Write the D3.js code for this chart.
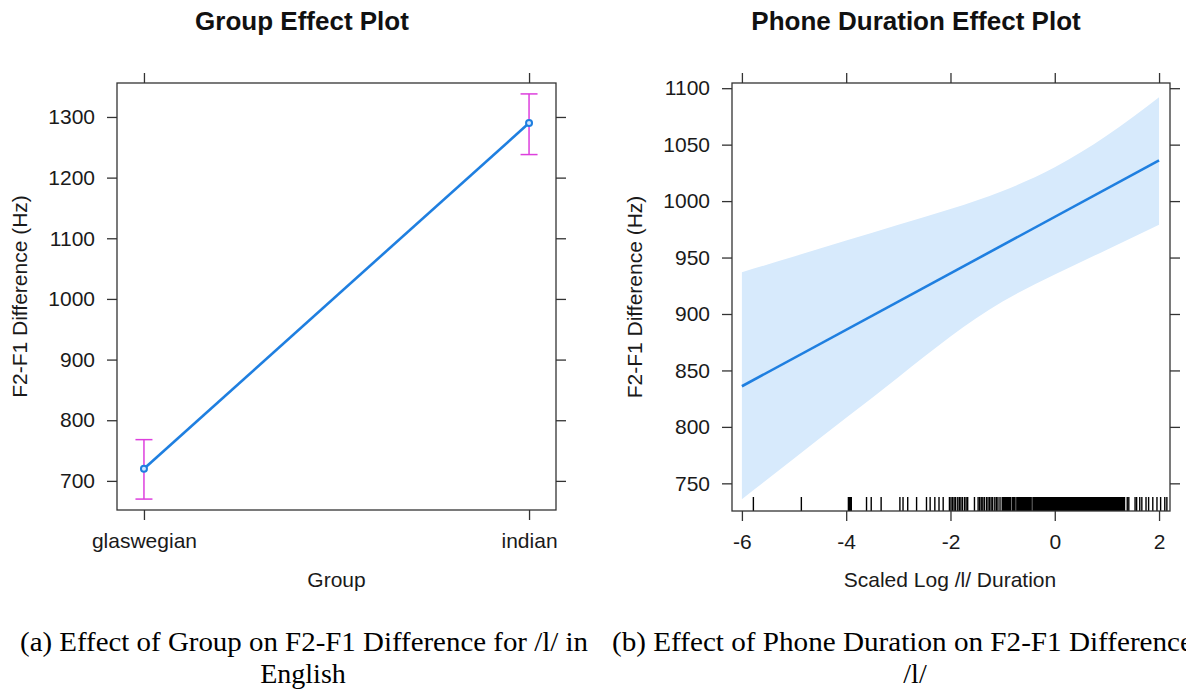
<!DOCTYPE html>
<html>
<head>
<meta charset="utf-8">
<script src="https://cdn.jsdelivr.net/npm/d3@7"></script>
<style>
  html, body { margin: 0; padding: 0; background: #fff; }
  svg { display: block; }
  .ax text { font-family: "Liberation Sans", Arial, sans-serif; font-size: 21px; fill: #1a1a1a; }
  .ax line { stroke: #333; stroke-width: 1.3; }
  .ax path { display: none; }
</style>
</head>
<body>
<svg id="chart" width="1186" height="690"></svg>
<script>
// ---------- data ----------
const groups = ["glaswegian", "indian"];
const groupFit = [720, 1290];
const groupLower = [670, 1238];
const groupUpper = [768, 1338];
const groupYTicks = [700, 800, 900, 1000, 1100, 1200, 1300];

const durX = [-6, 2];
const durFit = [836, 1036];
const bandX = [-6, -5, -4, -3, -2, -1, 0, 1, 2];
const bandUpper = [937, 951, 965, 979, 993, 1009, 1030, 1058, 1092];
const bandLower = [736, 772, 808, 844, 880, 911, 935, 957, 979];
const durXTicks = [-6, -4, -2, 0, 2];
const durYTicks = [750, 800, 850, 900, 950, 1000, 1050, 1100];
const rugValues = [
  -5.78, -4.86, -3.95, -3.93, -3.91, -3.61, -3.52, -3.33,
  -2.97, -2.91, -2.82, -2.65, -2.46, -2.39, -2.30, -2.22, -2.14,
  -2.02, -1.99, -1.96, -1.93, -1.90, -1.86, -1.83, -1.80, -1.77, -1.73, -1.70, -1.67,
  -1.54, -1.47, -1.44, -1.41, -1.38, -1.35, -1.31, -1.28, -1.25, -1.22, -1.19, -1.15, -1.12, -1.09, -1.05,
  -1.00, -0.98, -0.96, -0.94, -0.92, -0.90, -0.88, -0.86,
  -0.81, -0.79, -0.77,
  -0.72, -0.70, -0.68, -0.66, -0.64, -0.62, -0.60, -0.58, -0.56, -0.54, -0.52, -0.50, -0.48, -0.46,
  -0.41, -0.39, -0.37, -0.35, -0.33, -0.31, -0.29, -0.27, -0.25, -0.23, -0.21, -0.19, -0.17, -0.15,
  -0.13, -0.11, -0.09, -0.07, -0.05, -0.03, -0.01,
  0.01, 0.03, 0.05, 0.07, 0.09, 0.11, 0.13, 0.15, 0.17, 0.19, 0.21, 0.23, 0.25, 0.27, 0.29,
  0.31, 0.33, 0.35, 0.37, 0.39, 0.41, 0.43, 0.45, 0.47, 0.49, 0.51, 0.53, 0.55, 0.57, 0.59,
  0.61, 0.63, 0.65, 0.67, 0.69, 0.71, 0.73, 0.75, 0.77, 0.79, 0.81, 0.83, 0.85, 0.87, 0.89,
  0.91, 0.93, 0.95, 0.97, 0.99, 1.01, 1.03, 1.05, 1.07, 1.09, 1.11, 1.13, 1.15, 1.17, 1.19,
  1.21, 1.23, 1.25, 1.27, 1.29, 1.31, 1.33,
  1.39, 1.42, 1.54, 1.57, 1.63, 1.67, 1.75, 1.80, 1.88, 1.96, 2.03, 2.11, 2.15
];

const titles = ["Group Effect Plot", "Phone Duration Effect Plot"];
const xTitles = ["Group", "Scaled Log /l/ Duration"];
const yTitle = "F2-F1 Difference (Hz)";
const captionA = ["(a) Effect of Group on F2-F1 Difference for /l/ in", "English"];
const captionB = ["(b) Effect of Phone Duration on F2-F1 Difference", "/l/"];

// ---------- drawing ----------
const svg = d3.select("#chart");
const lineBlue = "#1f7fe0";
const magenta = "#dd3fdd";
const sans = '"Liberation Sans", Arial, sans-serif';
const fmt = d => String(d);

function frame(g, x, y, xTickVals, yTickVals, xFmt, yFmt) {
  const [x0, x1] = x.range();
  const [y0, y1] = y.range(); // y0 bottom, y1 top
  g.append("g").attr("class", "ax").attr("transform", `translate(${x0},0)`)
    .call(d3.axisLeft(y).tickValues(yTickVals).tickSize(10).tickPadding(12).tickFormat(yFmt));
  g.append("g").attr("class", "ax").attr("transform", `translate(${x1},0)`)
    .call(d3.axisRight(y).tickValues(yTickVals).tickSize(10).tickFormat(() => ""));
  g.append("g").attr("class", "ax").attr("transform", `translate(0,${y0})`)
    .call(d3.axisBottom(x).tickValues(xTickVals).tickSize(10).tickPadding(13).tickFormat(xFmt));
  g.append("g").attr("class", "ax").attr("transform", `translate(0,${y1})`)
    .call(d3.axisTop(x).tickValues(xTickVals).tickSize(10).tickFormat(() => ""));
  g.append("rect").attr("x", x0).attr("y", y1).attr("width", x1 - x0).attr("height", y0 - y1)
    .attr("fill", "none").attr("stroke", "#333").attr("stroke-width", 1.3);
}

function texts(g, cx, title, yTitleX, cy) {
  g.append("text").attr("x", cx).attr("y", 30).attr("text-anchor", "middle")
    .attr("font-family", sans).attr("font-weight", "bold").attr("font-size", 26).attr("fill", "#111")
    .text(title);
  g.append("text").attr("x", 0).attr("y", 0)
    .attr("transform", `translate(${yTitleX},${cy}) rotate(-90)`)
    .attr("text-anchor", "middle").attr("font-family", sans).attr("font-size", 21).attr("fill", "#1a1a1a")
    .text(yTitle);
}

// Left panel
const gL = svg.append("g");
const xL = d3.scalePoint().domain(groups).range([117, 556]).padding(0.07);
const yL = d3.scaleLinear().domain([652, 1356]).range([510, 83]);
frame(gL, xL, yL, groups, groupYTicks, d => d, fmt);
texts(gL, 302, titles[0], 27, (83 + 510) / 2);
gL.append("text").attr("x", (117 + 556) / 2).attr("y", 587).attr("text-anchor", "middle")
  .attr("font-family", sans).attr("font-size", 21).attr("fill", "#1a1a1a").text(xTitles[0]);

const gData = groups.map((g, i) => ({ g, fit: groupFit[i], lo: groupLower[i], hi: groupUpper[i] }));
gL.append("path").datum(gData)
  .attr("d", d3.line().x(d => xL(d.g)).y(d => yL(d.fit)))
  .attr("fill", "none").attr("stroke", lineBlue).attr("stroke-width", 2.6);
const eb = gL.selectAll(".eb").data(gData).enter().append("g").attr("class", "eb");
eb.append("line").attr("x1", d => xL(d.g)).attr("x2", d => xL(d.g))
  .attr("y1", d => yL(d.lo)).attr("y2", d => yL(d.hi)).attr("stroke", magenta).attr("stroke-width", 1.5);
eb.append("line").attr("x1", d => xL(d.g) - 8.5).attr("x2", d => xL(d.g) + 8.5)
  .attr("y1", d => yL(d.lo)).attr("y2", d => yL(d.lo)).attr("stroke", magenta).attr("stroke-width", 1.5);
eb.append("line").attr("x1", d => xL(d.g) - 8.5).attr("x2", d => xL(d.g) + 8.5)
  .attr("y1", d => yL(d.hi)).attr("y2", d => yL(d.hi)).attr("stroke", magenta).attr("stroke-width", 1.5);
eb.append("circle").attr("cx", d => xL(d.g)).attr("cy", d => yL(d.fit)).attr("r", 3)
  .attr("fill", "#cfe6ff").attr("stroke", lineBlue).attr("stroke-width", 2);

// Right panel
const gR = svg.append("g");
const xR = d3.scaleLinear().domain([-6.19, 2.21]).range([732, 1170]);
const yR = d3.scaleLinear().domain([725.5, 1104.6]).range([511, 83]);

const bData = bandX.map((x, i) => ({ x, lo: bandLower[i], hi: bandUpper[i] }));
gR.append("path").datum(bData)
  .attr("d", d3.area().x(d => xR(d.x)).y0(d => yR(d.lo)).y1(d => yR(d.hi)).curve(d3.curveNatural))
  .attr("fill", "rgb(215,234,252)");
gR.append("path").datum(durX.map((x, i) => ({ x, y: durFit[i] })))
  .attr("d", d3.line().x(d => xR(d.x)).y(d => yR(d.y)))
  .attr("fill", "none").attr("stroke", lineBlue).attr("stroke-width", 2.6);

// rug: ticks packed closely together get a wider stroke so they merge into a solid band
const rugSorted = rugValues.slice().sort(d3.ascending);
const rugData = rugSorted.map((v, i) => {
  const prev = i > 0 ? v - rugSorted[i - 1] : Infinity;
  const next = i < rugSorted.length - 1 ? rugSorted[i + 1] - v : Infinity;
  return { v, dense: Math.min(prev, next) <= 0.021 };
});
gR.selectAll(".rug").data(rugData).enter().append("line")
  .attr("x1", d => xR(d.v)).attr("x2", d => xR(d.v))
  .attr("y1", yR.range()[0]).attr("y2", yR.range()[0] - 14)
  .attr("stroke", "#000").attr("stroke-width", d => d.dense ? 2.2 : 1.4);

frame(gR, xR, yR, durXTicks, durYTicks, fmt, fmt);
texts(gR, 916, titles[1], 642, (83 + 511) / 2);
gR.append("text").attr("x", 950).attr("y", 587).attr("text-anchor", "middle")
  .attr("font-family", sans).attr("font-size", 21).attr("fill", "#1a1a1a").text(xTitles[1]);

// Captions
const serif = '"Liberation Serif", "Times New Roman", serif';
function caption(lines, x0, w, cx2) {
  svg.append("text").attr("x", x0).attr("y", 651)
    .attr("font-family", serif).attr("font-size", 28).attr("fill", "#000")
    .attr("textLength", w).attr("lengthAdjust", "spacingAndGlyphs").text(lines[0]);
  svg.append("text").attr("x", cx2).attr("y", 683).attr("text-anchor", "middle")
    .attr("font-family", serif).attr("font-size", 28).attr("fill", "#000").text(lines[1]);
}
caption(captionA, 20, 568, 303);
caption(captionB, 612, 581, 915);
</script>
</body>
</html>
